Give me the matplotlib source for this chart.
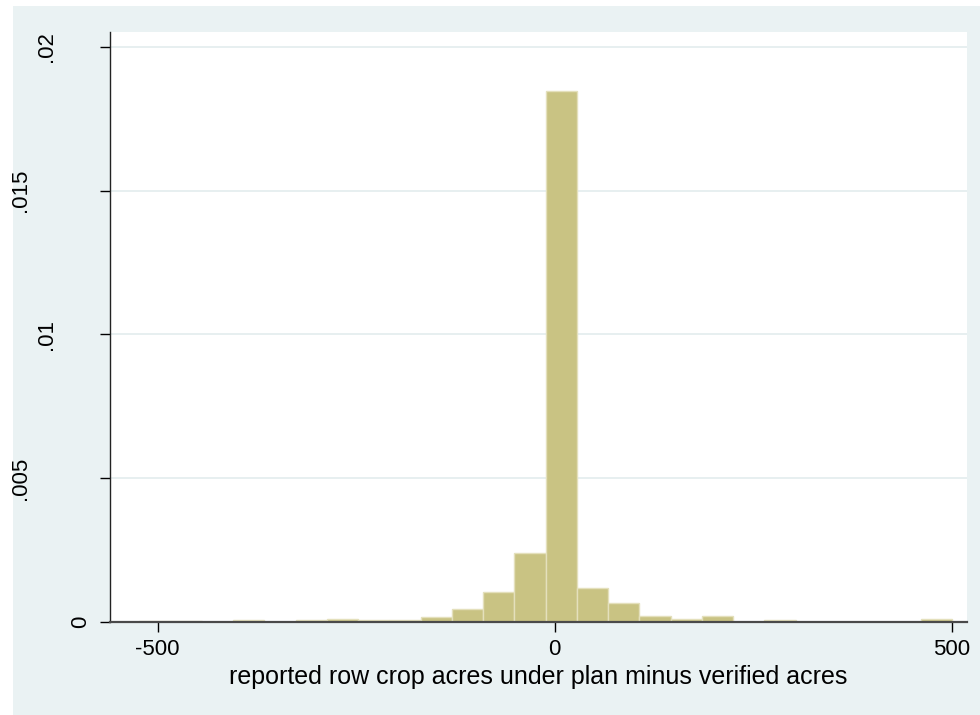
import matplotlib
matplotlib.use("Agg")
import matplotlib.pyplot as plt
import matplotlib.transforms as mtransforms
from matplotlib.patches import Rectangle
import numpy as np

# histogram: 26 bins starting at -523, width ~39.35
bin_start = -523.0
bin_width = 39.35
density = [0.00004, 0.00004, 0.0, 0.00007, 0.0, 0.00007, 0.00011, 0.00007,
           0.00007, 0.00019, 0.00045, 0.00105, 0.00239, 0.01848, 0.00117,
           0.00066, 0.00021, 0.00012, 0.00021, 0.0, 0.00007, 0.0, 0.0, 0.0,
           0.0, 0.00012]
x_ticks = [-500, 0, 500]
x_tick_labels = ["-500", "0", "500"]
y_ticks = [0, 0.005, 0.01, 0.015, 0.02]
y_tick_labels = ["0", ".005", ".01", ".015", ".02"]
x_label = "reported row crop acres under plan minus verified acres"

plt.rcParams['font.family'] = ['Liberation Sans', 'DejaVu Sans']

W, H = 980, 715
fig = plt.figure(figsize=(W / 100, H / 100), dpi=100, facecolor='white')

# stata style outer graph region
bg = Rectangle((13 / W, 0), (W - 13) / W, (H - 6) / H, transform=fig.transFigure,
               facecolor='#EAF2F3', edgecolor='none', zorder=-10)
fig.add_artist(bg)

left, right, top, bottom = 110, 967, 32, 622
ax = fig.add_axes([left / W, (H - bottom) / H, (right - left) / W, (bottom - top) / H])
ax.set_zorder(1)
ax.set_facecolor('white')

lefts = bin_start + bin_width * np.arange(len(density))
ax.bar(lefts, density, width=bin_width, align='edge', color='#C9C383',
       edgecolor='#E4E0BC', linewidth=1.0, zorder=3)

ax.set_xlim(-560, 519)
ax.set_ylim(0, 0.02052)

for yv in y_ticks[1:]:
    ax.axhline(yv, color='#E3ECEE', linewidth=1.2, zorder=1)

for s in ['top', 'right']:
    ax.spines[s].set_visible(False)
ax.spines['left'].set_color('#222222')
ax.spines['left'].set_linewidth(1.0)
ax.spines['bottom'].set_color('#4a4a4a')
ax.spines['bottom'].set_linewidth(1.6)
ax.spines['bottom'].set_zorder(4)

ax.set_xticks(x_ticks)
ax.set_xticklabels(x_tick_labels, fontsize=16)
ax.set_yticks(y_ticks)
ax.set_yticklabels([])
ax.tick_params(axis='both', direction='out', length=7.2, width=1.0, color='black')
ax.tick_params(axis='x', pad=5)

# y labels are vertical and set off from the axis by different amounts, as in the source
label_x = {"0": 81, ".005": 21, ".01": 46, ".015": 21, ".02": 46}
trans = mtransforms.blended_transform_factory(fig.transFigure, ax.transData)
for yv, lab in zip(y_ticks, y_tick_labels):
    ax.text(label_x[lab] / W, yv, lab, transform=trans, rotation=90,
            ha='center', va='center', fontsize=16, clip_on=False)

ax.set_xlabel(x_label, fontsize=18, labelpad=3.5)

fig.savefig("out.png", dpi=100, facecolor='white')
